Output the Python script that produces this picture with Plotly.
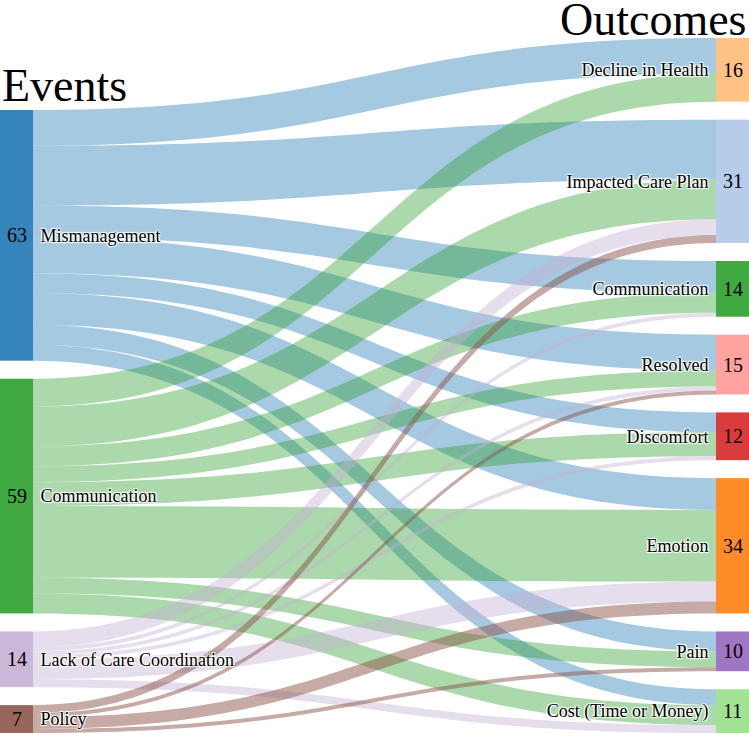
import plotly.graph_objects as go

# ---------------- data ----------------
events = ["Mismanagement", "Communication", "Lack of Care Coordination", "Policy"]
outcomes = ["Decline in Health", "Impacted Care Plan", "Communication", "Resolved",
            "Discomfort", "Emotion", "Pain", "Cost (Time or Money)"]

# flows from each event to the outcomes (same order as `outcomes`)
mismanagement = [9, 15, 8, 9, 5, 8, 5, 4]
communication = [7, 10, 5, 4, 6, 18, 4, 5]
lack_of_care_coordination = [0, 4, 1, 1, 1, 5, 0, 2]
policy = [0, 2, 0, 1, 0, 3, 1, 0]

flows = [mismanagement, communication, lack_of_care_coordination, policy]

# ---------------- style ----------------
event_colors = ["#1f77b4", "#2ca02c", "#c5b0d5", "#8c564b"]
link_alpha = [0.4, 0.4, 0.42, 0.5]
outcome_colors = ["#ffbb78", "#aec7e8", "#2ca02c", "#ff9896",
                  "#d62728", "#ff7f0e", "#9467bd", "#98df8a"]
node_alpha = 0.9
FONT = "Liberation Serif"
W, H = 749, 733
MT = 38
plot_w = W
plot_h = H - MT
pad = 18
thick = 33
NBSP = "\u00a0"


def rgba(hex_color, a):
    h = hex_color.lstrip("#")
    r, g, b = int(h[0:2], 16), int(h[2:4], 16), int(h[4:6], 16)
    return f"rgba({r},{g},{b},{a})"


event_totals = [sum(f) for f in flows]
outcome_totals = [sum(f[j] for f in flows) for j in range(len(outcomes))]
grand = sum(event_totals)

# same scale d3-sankey uses (tightest column)
ky = min((plot_h - (len(events) - 1) * pad) / grand,
         (plot_h - (len(outcomes) - 1) * pad) / grand)

# outcomes stacked from the top, events stacked up from the bottom
out_centers = []
y = 0.0
for v in outcome_totals:
    h = v * ky
    out_centers.append(y + h / 2)
    y += h + pad

ev_centers = []
y = plot_h
for v in reversed(event_totals):
    h = v * ky
    ev_centers.append(y - h / 2)
    y -= h + pad
ev_centers = ev_centers[::-1]

x_left = (thick / 2) / plot_w
x_right = 1 - (thick / 2) / plot_w

node_x = [x_left] * len(events) + [x_right] * len(outcomes)
node_y = [c / plot_h for c in ev_centers] + [c / plot_h for c in out_centers]

src, tgt, val, lcol = [], [], [], []
for i, f in enumerate(flows):
    for j, v in enumerate(f):
        if v > 0:
            src.append(i)
            tgt.append(len(events) + j)
            val.append(v)
            lcol.append(rgba(event_colors[i], link_alpha[i]))

node_labels = [NBSP + e for e in events] + [o + NBSP for o in outcomes]

fig = go.Figure(go.Sankey(
    arrangement="fixed",
    node=dict(
        label=node_labels,
        color=[rgba(c, node_alpha) for c in event_colors + outcome_colors],
        x=node_x,
        y=node_y,
        pad=pad,
        thickness=thick,
        line=dict(width=0),
        hoverinfo="none",
    ),
    link=dict(source=src, target=tgt, value=val, color=lcol, hoverinfo="none"),
    textfont=dict(family=FONT, size=18, color="black"),
))

annotations = []
for i, v in enumerate(event_totals):
    annotations.append(dict(
        x=x_left, y=1 - ev_centers[i] / plot_h, xref="paper", yref="paper",
        text=str(v), showarrow=False, xanchor="center", yanchor="middle",
        font=dict(family=FONT, size=20, color="black")))
for j, v in enumerate(outcome_totals):
    annotations.append(dict(
        x=x_right, y=1 - out_centers[j] / plot_h, xref="paper", yref="paper",
        text=str(v), showarrow=False, xanchor="center", yanchor="middle",
        font=dict(family=FONT, size=20, color="black")))

annotations.append(dict(
    x=0, y=1 - (86 - MT) / plot_h, xref="paper", yref="paper", text="Events",
    showarrow=False, xanchor="left", yanchor="middle",
    font=dict(family=FONT, size=46, color="black")))
annotations.append(dict(
    x=1, y=1 - (19 - MT) / plot_h, xref="paper", yref="paper", text="Outcomes",
    showarrow=False, xanchor="right", yanchor="middle",
    font=dict(family=FONT, size=46, color="black")))

fig.update_layout(
    width=W, height=H,
    margin=dict(l=0, r=0, t=MT, b=0),
    paper_bgcolor="white",
    plot_bgcolor="white",
    annotations=annotations,
)

fig.write_html(
    "out.html",
    config={"displayModeBar": False},
    post_script="document.body.style.margin='0';document.body.style.overflow='hidden';",
)
